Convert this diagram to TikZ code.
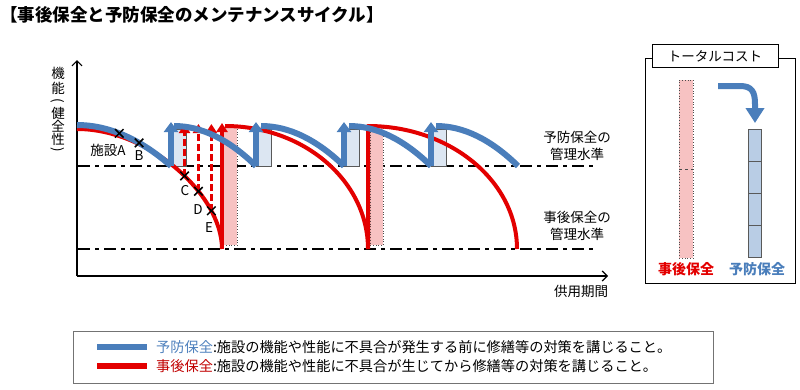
\documentclass[tikz,border=0pt]{standalone}
\usepackage{fontspec}
\setmainfont{Noto Sans CJK JP}
\usetikzlibrary{arrows.meta,shapes.misc}
\definecolor{bl}{HTML}{4A7EBB}
\definecolor{rd}{HTML}{E30000}
\definecolor{lbl}{HTML}{DCE6F2}
\definecolor{pnk}{HTML}{F7C2C2}
\definecolor{barb}{HTML}{B9CDE5}
\definecolor{legred}{HTML}{C00000}
\definecolor{legblue}{HTML}{4F81BD}
\tikzset{
  blueline/.style={draw=bl, line width=6pt},
  redline/.style={draw=rd, line width=4pt},
  levelline/.style={line width=2.4pt, dash pattern=on 12pt off 5pt on 4pt off 5pt},
  xmark/.style={cross out, draw, line width=1.5pt, minimum size=7pt, inner sep=0pt},
  lab/.style={font=\fontsize{13.5}{17}\selectfont, inner sep=0pt},
  bluebox/.style={fill=lbl, draw=black!65, line width=0.6pt},
  pinkbox/.style={fill=pnk, draw=black!70, dotted, line width=0.7pt},
  bup/.style={blueline, -{Triangle[width=14pt,length=10pt]}},
  rup/.style={redline, -{Triangle[width=11pt,length=9pt]}},
  rdash/.style={draw=rd, line width=3.4pt, dash pattern=on 7pt off 3pt, -{Triangle[width=11pt,length=9pt]}},
  axis/.style={line width=1.2pt, -{Straight Barb[length=5pt,width=10pt]}},
}
\begin{document}
\begin{tikzpicture}[x=1pt,y=-1pt]
\useasboundingbox (0,0) rectangle (800,389);

% title
\node[anchor=west, inner sep=0pt, font=\fontsize{17.5}{20}\selectfont\bfseries] (title) at (0,15) {【事後保全と予防保全のメンテナンスサイクル】};

% axes
\coordinate (o) at (77,276);
\coordinate (ytop) at (77,60);
\coordinate (xend) at (608,276);
\draw[axis] (o) -- (ytop);
\draw[axis] (o) -- (xend);
\node[lab] (xlab) at (581,291) {供用期間};

% y label (vertical)
\node[lab] (y1) at (58,73) {機};
\node[lab] (y2) at (58,88) {能};
\node[lab, rotate=-90] (y3) at (58,101) {(};
\node[lab] (y4) at (58,113) {健};
\node[lab] (y5) at (58,126) {全};
\node[lab] (y6) at (58,139) {性};
\node[lab, rotate=-90] (y7) at (58,150) {)};

% management levels
\coordinate (up0) at (78,166);
\coordinate (up1) at (597,166);
\coordinate (lo0) at (78,249);
\coordinate (lo1) at (597,249);
\draw[levelline] (up0) -- (up1);
\draw[levelline] (lo0) -- (lo1);
\node[lab, align=center] (uplab) at (577,146) {予防保全の\\管理水準};
\node[lab, align=center] (lolab) at (577,226) {事後保全の\\管理水準};

% boxes
\node[pinkbox, minimum width=14pt, minimum height=118pt, inner sep=0pt, anchor=north west] (pk1) at (223,127) {};
\node[pinkbox, minimum width=13pt, minimum height=118pt, inner sep=0pt, anchor=north west] (pk2) at (370,127) {};
\node[bluebox, minimum width=15pt, minimum height=37pt, inner sep=0pt, anchor=north west] (bb1) at (171,129) {};
\node[bluebox, minimum width=15pt, minimum height=37pt, inner sep=0pt, anchor=north west] (bb2) at (256,129) {};
\node[bluebox, minimum width=15pt, minimum height=37pt, inner sep=0pt, anchor=north west] (bb3) at (344,129) {};
\node[bluebox, minimum width=15pt, minimum height=37pt, inner sep=0pt, anchor=north west] (bb4) at (431,129) {};

% red (corrective) curves
\coordinate (r1s) at (77,129);
\coordinate (r1e) at (222,249);
\coordinate (r1t) at (222,123);
\coordinate (r2s) at (225,126);
\coordinate (r2e) at (368,249);
\coordinate (r3s) at (368,126);
\coordinate (r3e) at (517,249);
\coordinate (topline) at (0,124);
\draw[redline] (r1s) .. controls (149.5,129) and (222,195) .. (r1e)
  coordinate[pos=.55] (cC) coordinate[pos=.65] (cD) coordinate[pos=.77] (cE);
\draw[rup] (r1e) -- (r1t);
\draw[redline] (r2s) .. controls (304,126) and (368,181) .. (r2e);
\draw[redline, line join=round] (r2e) -- (r3s) .. controls (450,126) and (517,181) .. (r3e);
\draw[rdash] (cC) -- (cC |- topline);
\draw[rdash] (cD) -- (cD |- topline);
\draw[rdash] (cE) -- (cE |- topline);

% blue (preventive) curves
\coordinate (b1s) at (77,125);
\coordinate (d1) at (171,166);
\coordinate (t1) at (171,122);
\coordinate (b2s) at (174,126);
\coordinate (d2) at (256,166);
\coordinate (t2) at (256,122);
\coordinate (b3s) at (261,126);
\coordinate (d3) at (344,166);
\coordinate (t3) at (344,122);
\coordinate (b4s) at (349,126);
\coordinate (d4) at (431,166);
\coordinate (t4) at (431,122);
\coordinate (b5s) at (436,126);
\coordinate (d5) at (518,166);
\draw[blueline] (b1s) .. controls (108,125) and (140,138.7) .. (d1)
  coordinate[pos=.45] (cA) coordinate[pos=.66] (cB);
\draw[bup] (d1) -- (t1);
\draw[blueline] (b2s) .. controls (201.3,126) and (228.7,139.3) .. (d2);
\draw[bup] (d2) -- (t2);
\draw[blueline] (b3s) .. controls (288.7,126) and (316.3,139.3) .. (d3);
\draw[bup] (d3) -- (t3);
\draw[blueline] (b4s) .. controls (376.3,126) and (403.7,139.3) .. (d4);
\draw[bup] (d4) -- (t4);
\draw[blueline] (b5s) .. controls (463.3,126) and (490.7,139.3) .. (d5);

% marks
\node[xmark] (mA) at (cA) {};
\node[xmark] (mB) at (cB) {};
\node[xmark] (mC) at (cC) {};
\node[xmark] (mD) at (cD) {};
\node[xmark] (mE) at (cE) {};
\node[lab] (lA) at (108,150) {施設A};
\node[lab] (lB) at (139,156) {B};
\node[lab] (lC) at (185,191) {C};
\node[lab] (lD) at (198,210) {D};
\node[lab] (lE) at (209,228) {E};

% total cost panel
\draw[line width=1pt] (645,58) rectangle (795,283);
\node[draw, fill=white, line width=1pt, minimum width=126pt, minimum height=23pt, inner sep=0pt, font=\fontsize{13.5}{16}\selectfont] (tc) at (715,56) {トータルコスト};
\node[pinkbox, minimum width=14pt, minimum height=178pt, inner sep=0pt, anchor=north west] (pbar) at (679,80) {};
\draw[black!70, dashed, line width=0.7pt] (pbar.west) -- (pbar.east);
\node[fill=barb, draw=black!65, line width=0.8pt, minimum width=13pt, minimum height=128pt, inner sep=0pt, anchor=north west] (bbar) at (748,129) {};
\coordinate (q1) at (748,161);
\coordinate (q2) at (748,193);
\coordinate (q3) at (748,225);
\draw[black!65, line width=0.8pt] (q1) -- ++(13,0);
\draw[black!65, line width=0.8pt] (q2) -- ++(13,0);
\draw[black!65, line width=0.8pt] (q3) -- ++(13,0);
\coordinate (ca0) at (718,86);
\coordinate (ca1) at (755,123);
\draw[draw=bl, line width=6pt, -{Triangle[width=18pt,length=15pt]}] (ca0) -- (740,86) .. controls (752,86) and (755,92) .. (755,104) -- (ca1);
\node[font=\fontsize{14}{16}\selectfont\bfseries, text=rd] (lk1) at (686,269) {事後保全};
\node[font=\fontsize{14}{16}\selectfont\bfseries, text=bl] (lk2) at (757,269) {予防保全};

% legend
\draw[draw=black!55, line width=1pt] (73,331) rectangle (713,383);
\coordinate (lg1a) at (97,347);
\coordinate (lg1b) at (147,347);
\coordinate (lg2a) at (97,366);
\coordinate (lg2b) at (147,366);
\draw[blueline] (lg1a) -- (lg1b);
\draw[draw=rd, line width=6pt] (lg2a) -- (lg2b);
\node[anchor=west, inner sep=0pt, font=\fontsize{14.2}{16}\selectfont] (lt1) at (156,347) {\textcolor{legblue}{予防保全}:施設の機能や性能に不具合が発生する前に修繕等の対策を講じること。};
\node[anchor=west, inner sep=0pt, font=\fontsize{14.2}{16}\selectfont] (lt2) at (156,366) {\textcolor{legred}{事後保全}:施設の機能や性能に不具合が生じてから修繕等の対策を講じること。};
\end{tikzpicture}
\end{document}
